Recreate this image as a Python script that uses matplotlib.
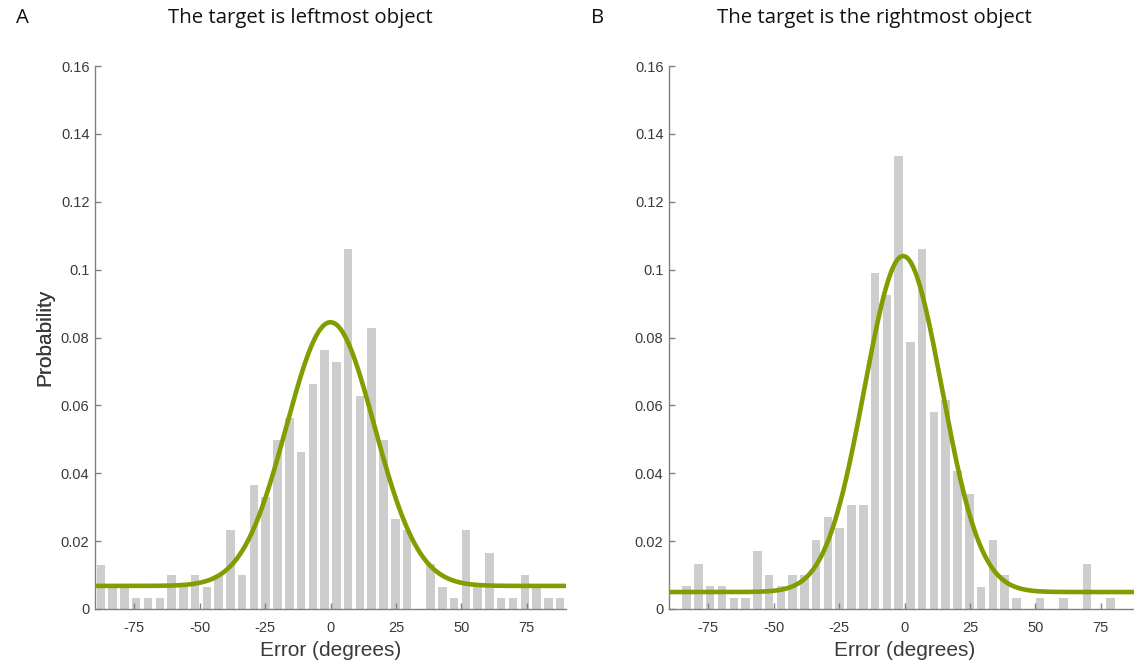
import numpy as np
import matplotlib
matplotlib.use("Agg")
import matplotlib.pyplot as plt

# ---------------- data ----------------
bin_edges = np.linspace(-90, 90, 41)          # 40 bins of 4.5 degrees
bin_centers = (bin_edges[:-1] + bin_edges[1:]) / 2

prob_left = [0.0131, 0.0066, 0.0066, 0.0033, 0.0033, 0.0033, 0.0099, 0.0066,
             0.0099, 0.0066, 0.0099, 0.0232, 0.0099, 0.0364, 0.0331, 0.0497,
             0.0563, 0.0464, 0.0662, 0.0762, 0.0728, 0.1060, 0.0629, 0.0828,
             0.0497, 0.0265, 0.0232, 0.0000, 0.0132, 0.0066, 0.0033, 0.0232,
             0.0066, 0.0166, 0.0033, 0.0033, 0.0099, 0.0066, 0.0033, 0.0033]

prob_right = [0.0000, 0.0067, 0.0134, 0.0067, 0.0067, 0.0033, 0.0033, 0.0170,
              0.0100, 0.0067, 0.0100, 0.0100, 0.0204, 0.0272, 0.0238, 0.0306,
              0.0306, 0.0990, 0.0925, 0.1334, 0.0786, 0.1060, 0.0580, 0.0615,
              0.0408, 0.0340, 0.0066, 0.0204, 0.0100, 0.0033, 0.0000, 0.0033,
              0.0000, 0.0033, 0.0000, 0.0134, 0.0000, 0.0033, 0.0000, 0.0000]

# fitted model (gaussian + uniform floor): mean, sd, peak, floor
fit_left = dict(mu=0.0, sigma=16.8, peak=0.0845, floor=0.0068)
fit_right = dict(mu=-0.5, sigma=14.8, peak=0.1040, floor=0.0050)

titles = ["The target is leftmost object", "The target is the rightmost object"]
panel_letters = ["A", "B"]
x_ticks = [-75, -50, -25, 0, 25, 50, 75]
x_ticklabels = ["-75", "-50", "-25", "0", "25", "50", "75"]
y_ticks = [0, 0.02, 0.04, 0.06, 0.08, 0.1, 0.12, 0.14, 0.16]
y_ticklabels = ["0", "0.02", "0.04", "0.06", "0.08", "0.1", "0.12", "0.14", "0.16"]

# ---------------- style ----------------
W, H = 1134, 664
fig = plt.figure(figsize=(W / 100, H / 100), dpi=100)
fig.patch.set_facecolor("white")

bar_color = "#cdcdcd"
curve_color = "#7f9e00"
spine_color = "#808080"
text_color = "#3a3a3a"
label_font = ["Liberation Sans", "DejaVu Sans"]
title_font = ["Open Sans", "DejaVu Sans"]

ax_w_px = 471
ax_positions = [(95, 609), (669, 609)]   # left edge, bottom edge (pixels from top)
ax_h_px = 543

xs = np.linspace(-90, 90, 721)

for i, (probs, fit) in enumerate([(prob_left, fit_left), (prob_right, fit_right)]):
    lx, by = ax_positions[i]
    ax = fig.add_axes([lx / W, (H - by) / H, ax_w_px / W, ax_h_px / H])
    ax.bar(bin_centers, probs, width=4.5 * 0.72, color=bar_color, edgecolor="none", zorder=1)
    curve = fit["floor"] + (fit["peak"] - fit["floor"]) * np.exp(
        -(xs - fit["mu"]) ** 2 / (2 * fit["sigma"] ** 2))
    ax.plot(xs, curve, color=curve_color, lw=3.3, zorder=3, solid_capstyle="butt")

    ax.set_xlim(-90, 90)
    ax.set_ylim(0, 0.16)
    for s in ["top", "right"]:
        ax.spines[s].set_visible(False)
    for s in ["left", "bottom"]:
        ax.spines[s].set_color(spine_color)
        ax.spines[s].set_linewidth(1.0)
    ax.set_xticks(x_ticks)
    ax.set_xticklabels(x_ticklabels, family=label_font, fontsize=10.5, color=text_color)
    ax.set_yticks(y_ticks)
    ax.set_yticklabels(y_ticklabels, family=label_font, fontsize=10.5, color=text_color)
    ax.tick_params(axis="x", direction="in", length=4, width=1.0, color=spine_color, pad=9)
    ax.tick_params(axis="y", direction="in", length=4, width=1.0, color=spine_color, pad=4)

    ax.set_xlabel("Error (degrees)", family=label_font, fontsize=15, color=text_color, va="center")
    ax.xaxis.set_label_coords(0.5, (609 - 651) / ax_h_px)
    ax.set_ylabel("Probability", family=label_font, fontsize=15, color=text_color, va="center")
    ax.yaxis.set_label_coords((45 - lx) / ax_w_px, 0.5)

title_x = [300, 874]
letter_x = [22, 598]
for i in range(2):
    fig.text(title_x[i] / W, 1 - 18 / H, titles[i], ha="center", va="center",
             family=title_font, fontsize=14.7, color="#111111")
    fig.text(letter_x[i] / W, 1 - 18 / H, panel_letters[i], ha="center", va="center",
             family=title_font, fontsize=14.7, color="#111111")

fig.savefig("out.png", dpi=100, facecolor="white")
